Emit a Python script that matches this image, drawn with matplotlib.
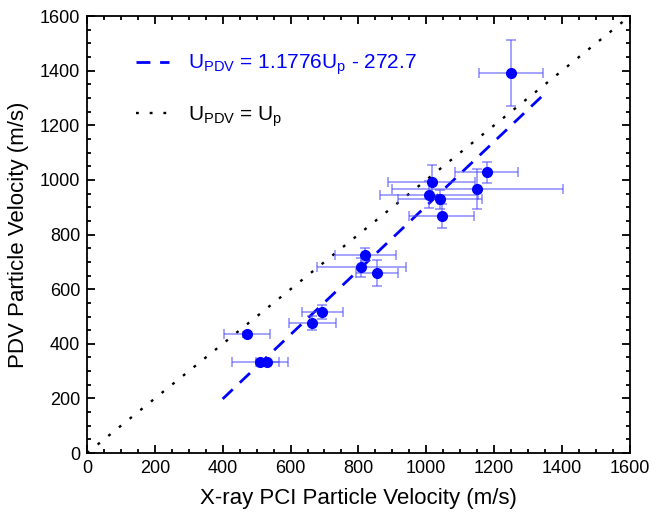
import matplotlib
matplotlib.use('Agg')
from matplotlib import pyplot as plt
from matplotlib.ticker import MultipleLocator
import numpy as np

plt.rc('font', family='Liberation Sans')
plt.rc('mathtext', fontset='custom', rm='Liberation Sans', it='Liberation Sans:italic')

# X-ray PCI particle velocity vs PDV particle velocity (m/s)
xray_vel = [1249, 1178, 1016, 1150, 1008, 1040, 1045, 820, 809, 855, 694, 664, 471, 510, 532]
pdv_vel = [1391, 1028, 993, 967, 946, 929, 869, 727, 680, 658, 517, 477, 435, 333, 333]
xray_err = [95, 92, 128, 252, 145, 124, 96, 90, 130, 63, 60, 70, 68, 82, 35]
pdv_err = [120, 38, 60, 73, 50, 34, 44, 25, 35, 48, 25, 25, 10, 8, 8]

# linear fit U_PDV = 1.1776 U_p - 272.7
slope = 1.1776
intercept = -272.7
fit_range = [400, 1350]

fig = plt.figure(figsize=(6.52, 5.19), dpi=100)
ax = fig.add_axes([0.1334, 0.127, 0.8326, 0.842])

fx = np.array(fit_range)
ax.plot(fx, slope * fx + intercept, color='blue', lw=2, dashes=(5, 3.5),
        label=r'U$_{\mathrm{PDV}}$ = 1.1776U$_{\mathrm{p}}$ - 272.7')
ax.plot([0, 1600], [0, 1600], color='black', lw=1.7, ls=(0, (1.2, 4.6)),
        label=r'U$_{\mathrm{PDV}}$ = U$_{\mathrm{p}}$')

ax.errorbar(xray_vel, pdv_vel, xerr=xray_err, yerr=pdv_err, fmt='none',
            ecolor=(0.3, 0.3, 1.0, 0.6), elinewidth=1.2, capsize=3.5, capthick=1.2)
ax.plot(xray_vel, pdv_vel, 'o', color='blue', ms=7, zorder=5)

ax.set_xlim(0, 1600)
ax.set_ylim(0, 1600)
ax.xaxis.set_major_locator(MultipleLocator(200))
ax.yaxis.set_major_locator(MultipleLocator(200))
ax.xaxis.set_minor_locator(MultipleLocator(50))
ax.yaxis.set_minor_locator(MultipleLocator(50))
ax.tick_params(which='both', direction='in', top=True, right=True, width=1.3)
ax.tick_params(which='major', length=6, labelsize=13, pad=5)
ax.tick_params(which='minor', length=3)
for s in ax.spines.values():
    s.set_linewidth(1.3)

ax.set_xlabel('X-ray PCI Particle Velocity (m/s)', fontsize=16, labelpad=8)
ax.set_ylabel('PDV Particle Velocity (m/s)', fontsize=16, labelpad=8)

leg = ax.legend(loc='upper left', frameon=False, fontsize=15, handlelength=1.6,
                handletextpad=0.9, labelspacing=1.3, bbox_to_anchor=(0.055, 0.959))
leg.get_texts()[0].set_color('blue')

fig.savefig('out.png', dpi=100)
